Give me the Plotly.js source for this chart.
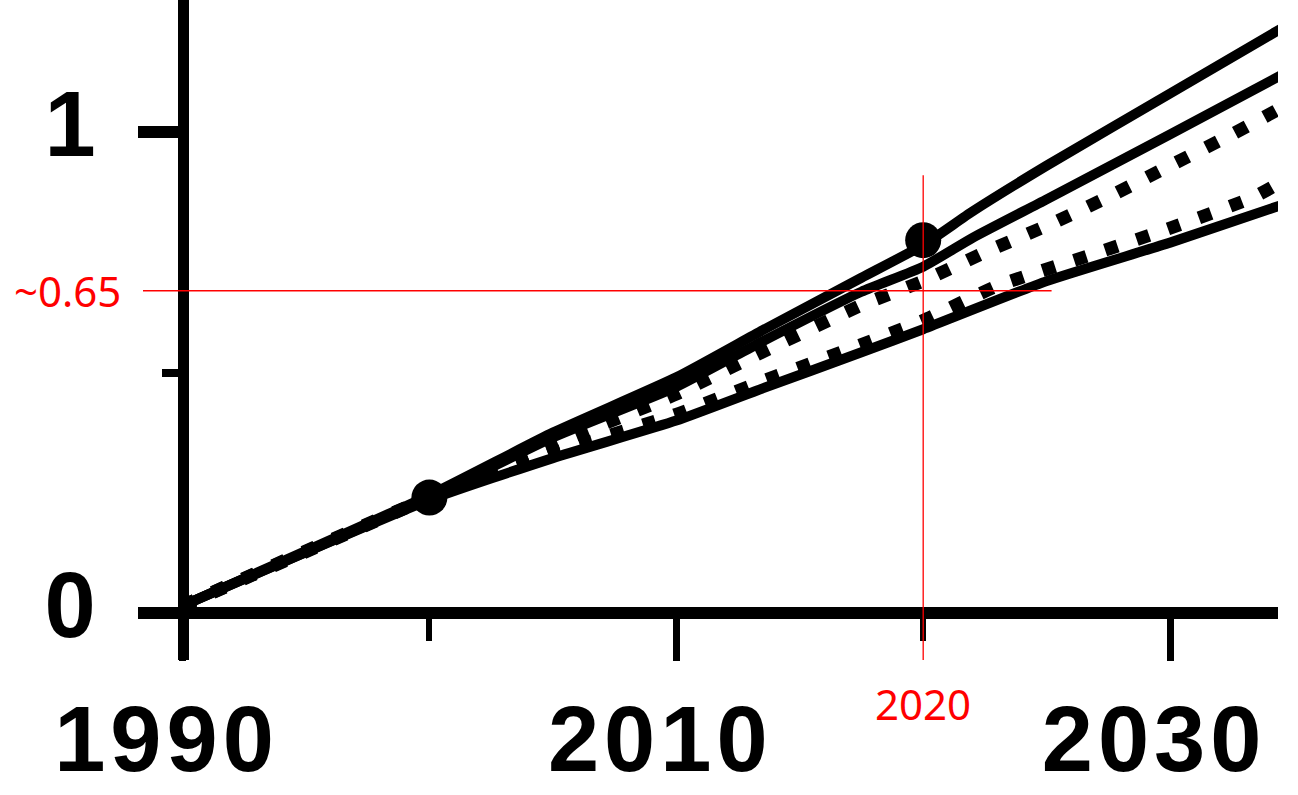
<!DOCTYPE html>
<html>
<head>
<meta charset="utf-8">
<script src="https://cdn.plot.ly/plotly-3.0.1.min.js"></script>
<style>
html, body { margin: 0; padding: 0; background: #ffffff; }
#chart { width: 1298px; height: 795px; }
#chart .xtick text { letter-spacing: 5px; }
</style>
</head>
<body>
<div id="chart"></div>
<script>
// ---- data ----
const yearsTop = [1990, 2000, 2005, 2010, 2013.5, 2017.5, 2020, 2022, 2025, 2030, 2034.5];
const valuesTop = [0.015, 0.245, 0.375, 0.49, 0.588, 0.697, 0.765, 0.835, 0.93, 1.08, 1.215];

const yearsSecond = [1990, 2000, 2005, 2010, 2013.5, 2017.5, 2020, 2022, 2025, 2030, 2034.5];
const valuesSecond = [0.015, 0.24, 0.365, 0.47, 0.565, 0.668, 0.72, 0.78, 0.86, 0.995, 1.118];

const yearsUpperDotted = [1990, 2000, 2005, 2010, 2013.5, 2017.5, 2020, 2022.5, 2025, 2027.5, 2030, 2032.5, 2034.5];
const valuesUpperDotted = [0.015, 0.24, 0.35, 0.455, 0.543, 0.64, 0.69, 0.75, 0.805, 0.865, 0.93, 0.995, 1.05];

const yearsLowerDotted = [1990, 2000, 2005, 2010, 2013.5, 2017.5, 2020, 2023, 2027, 2030, 2033.4, 2034.5];
const valuesLowerDotted = [0.015, 0.24, 0.332, 0.413, 0.482, 0.558, 0.608, 0.68, 0.748, 0.80, 0.865, 0.896];

const yearsLowest = [1990, 2000, 2005, 2010, 2013.5, 2017.5, 2020, 2025, 2030, 2034.5];
const valuesLowest = [0.015, 0.235, 0.322, 0.40, 0.467, 0.542, 0.59, 0.69, 0.77, 0.848];

const markerYears = [2000, 2020];
const markerValues = [0.24, 0.775];

const xTickVals = [1990, 2010, 2030];
const xTickText = ['1990', '2010', '2030'];
const xMinorTickVals = [2000, 2020];
const yTickVals = [0, 1];
const yTickText = ['0', '1'];
const yMinorTickVals = [0.5];

const refYear = 2020;
const refYearLabel = '2020';
const refValue = 0.67;
const refValueLabel = '~0.65';
const refLineEndYear = 2025.2;

// ---- axes geometry ----
const xRange = [1988.28, 2034.37];
const yRange = [-0.0977, 1.2744];

const solid = (w) => ({ color: '#000000', width: w, shape: 'spline', smoothing: 0.5 });
const dotted = (w) => ({ color: '#000000', width: w, dash: '13px,20px', shape: 'spline', smoothing: 0.5 });

const traces = [
  { x: yearsLowest, y: valuesLowest, mode: 'lines', line: solid(10), hoverinfo: 'skip' },
  { x: yearsLowerDotted, y: valuesLowerDotted, mode: 'lines', line: dotted(13), hoverinfo: 'skip' },
  { x: yearsUpperDotted, y: valuesUpperDotted, mode: 'lines', line: dotted(13), hoverinfo: 'skip' },
  { x: yearsSecond, y: valuesSecond, mode: 'lines', line: solid(10), hoverinfo: 'skip' },
  { x: yearsTop, y: valuesTop, mode: 'lines', line: solid(10), hoverinfo: 'skip' },
  { x: markerYears, y: markerValues, mode: 'markers',
    marker: { color: '#000000', size: 36, symbol: 'circle' }, hoverinfo: 'skip' }
];

const tickFont = { family: 'Liberation Sans, Arial, sans-serif', size: 92, color: '#000000', weight: 'bold' };
const redFont = { family: 'Noto Sans, Liberation Sans, sans-serif', size: 42, color: '#ff0000' };

const plotLeft = 140, plotWidth = 1138;
const toPaperX = (yr) => (yr - xRange[0]) / (xRange[1] - xRange[0]);

const layout = {
  width: 1298,
  height: 795,
  margin: { l: plotLeft, r: 1298 - plotLeft - plotWidth, t: 0, b: 135, pad: 0 },
  paper_bgcolor: '#ffffff',
  plot_bgcolor: '#ffffff',
  showlegend: false,
  xaxis: {
    range: xRange,
    anchor: 'free',
    position: 0.0712,
    showline: true,
    linewidth: 12,
    linecolor: '#000000',
    showgrid: false,
    zeroline: false,
    ticks: 'outside',
    ticklen: 42,
    tickwidth: 7,
    tickcolor: '#000000',
    tickmode: 'array',
    tickvals: xTickVals,
    ticktext: xTickText,
    tickfont: tickFont,
    ticklabelshift: -16,
    ticklabelstandoff: 0,
    minor: { tickmode: 'array', tickvals: xMinorTickVals, ticks: 'outside', ticklen: 22, tickwidth: 6, tickcolor: '#000000' }
  },
  yaxis: {
    range: yRange,
    anchor: 'free',
    position: (183 - plotLeft) / plotWidth,
    showline: true,
    linewidth: 11,
    linecolor: '#000000',
    showgrid: false,
    zeroline: false,
    ticks: 'outside',
    ticklen: 40,
    tickwidth: 12,
    tickcolor: '#000000',
    tickmode: 'array',
    tickvals: yTickVals,
    ticktext: yTickText,
    tickfont: tickFont,
    ticklabelstandoff: 24,
    ticklabelshift: -8,
    minor: { tickmode: 'array', tickvals: yMinorTickVals, ticks: 'outside', ticklen: 16, tickwidth: 8, tickcolor: '#000000' }
  },
  shapes: [
    { type: 'line', xref: 'x', yref: 'y', x0: refYear, x1: refYear, y0: -0.1, y1: 0.91,
      line: { color: '#ff0000', width: 1.3 } },
    { type: 'line', xref: 'paper', yref: 'y', x0: 3 / plotWidth, x1: toPaperX(refLineEndYear), y0: refValue, y1: refValue,
      line: { color: '#ff0000', width: 1.3 } }
  ],
  annotations: [
    { xref: 'paper', yref: 'y', x: -18 / plotWidth, y: refValue, xanchor: 'right', yanchor: 'middle',
      text: refValueLabel, showarrow: false, font: redFont, borderpad: 0 },
    { xref: 'x', yref: 'paper', x: refYear, y: -43 / 660, xanchor: 'center', yanchor: 'middle',
      text: refYearLabel, showarrow: false, font: redFont, borderpad: 0 }
  ]
};

Plotly.newPlot('chart', traces, layout, { staticPlot: true, displayModeBar: false });
</script>
</body>
</html>
